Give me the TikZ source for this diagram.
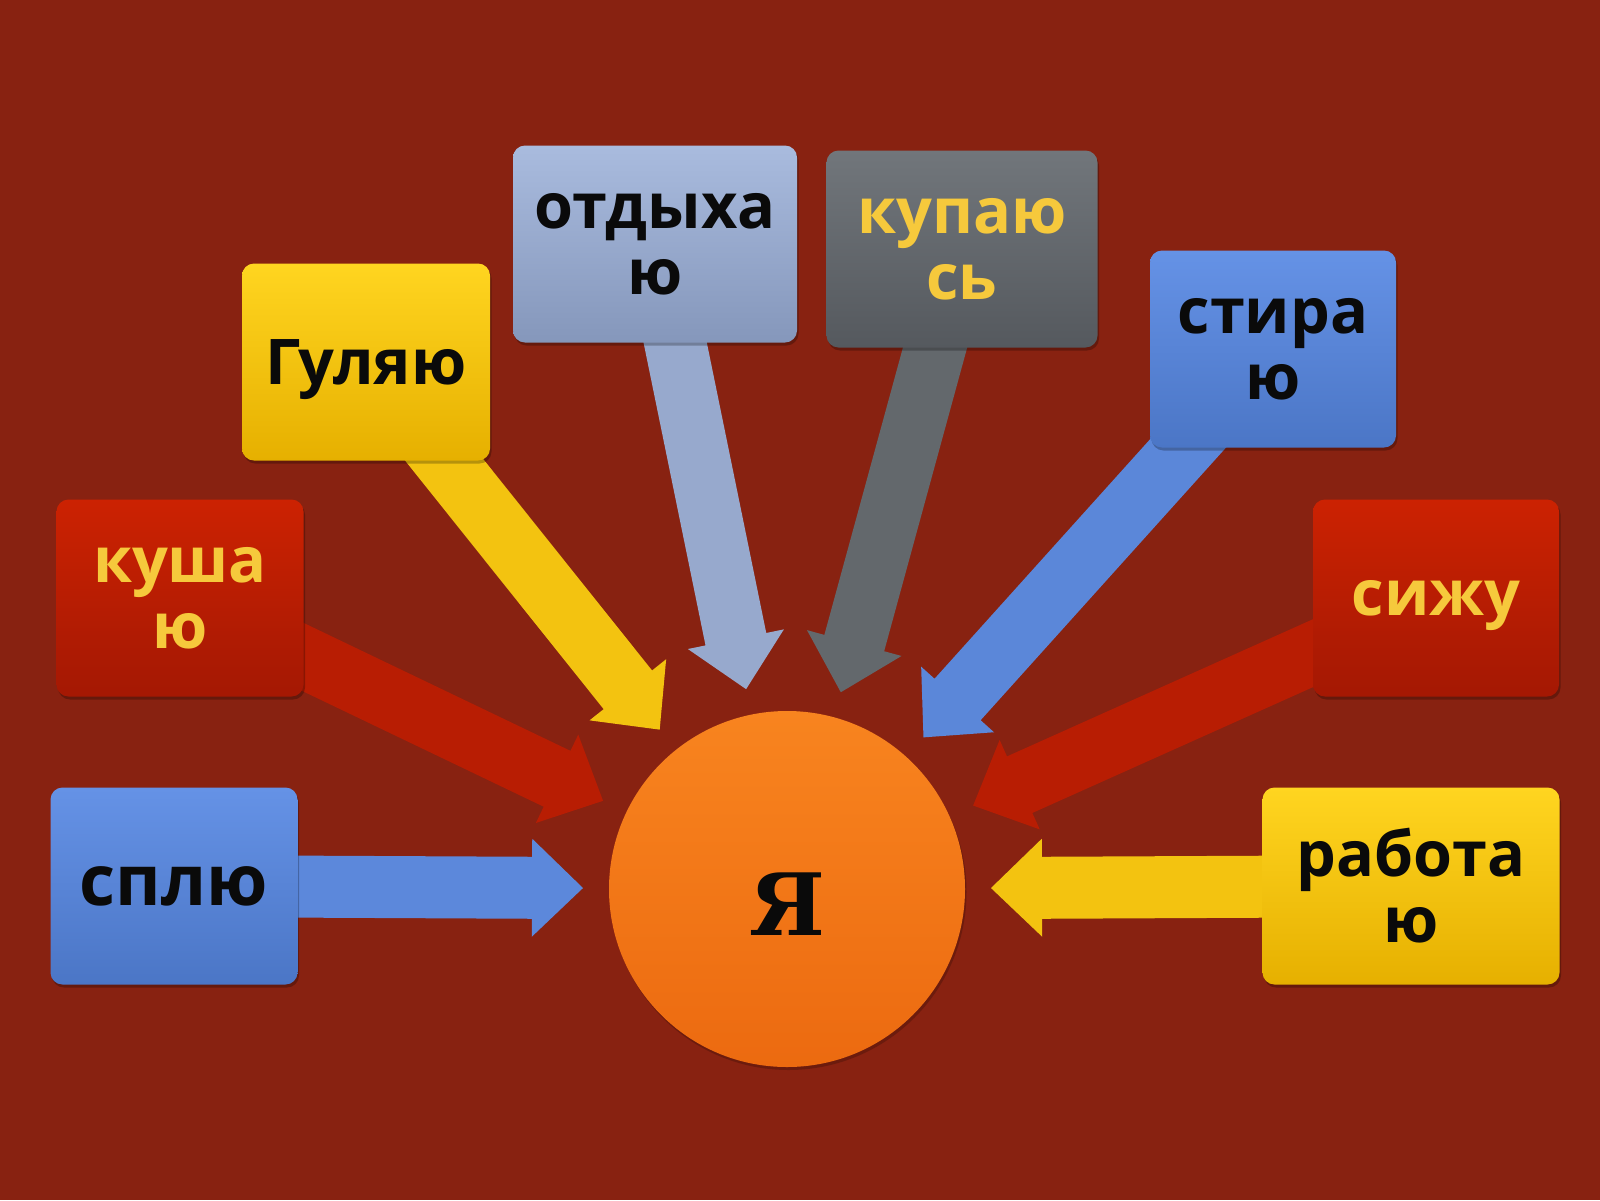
\documentclass[tikz,border=0pt]{standalone}
\usepackage{fontspec}
\newfontfamily\boxfont{Open Sans}
\newfontfamily\yafont{DejaVu Serif}
\usetikzlibrary{calc,shadows}

\pgfdeclarelayer{back}
\pgfdeclarelayer{arrows}
\pgfsetlayers{back,arrows,main}

\definecolor{bgred}{HTML}{882211}
\definecolor{ink}{HTML}{0A0A0A}
\definecolor{gold}{HTML}{F6C93C}
\definecolor{blueT}{HTML}{6592E6}
\definecolor{blueB}{HTML}{4B76C6}
\definecolor{redT}{HTML}{CC2202}
\definecolor{redB}{HTML}{A41803}
\definecolor{yelT}{HTML}{FFD520}
\definecolor{yelB}{HTML}{E6B000}
\definecolor{steelT}{HTML}{A9BBDE}
\definecolor{steelB}{HTML}{8597BB}
\definecolor{greyT}{HTML}{71767B}
\definecolor{greyB}{HTML}{55595E}
\definecolor{orangeT}{HTML}{F8841F}
\definecolor{orangeB}{HTML}{EC6A10}

\tikzset{
  word/.style={rounded corners=12pt, minimum height=197pt, align=center,
    font=\boxfont\bfseries\fontsize{63pt}{66pt}\selectfont,
    drop shadow={shadow xshift=1.5pt, shadow yshift=-3pt, opacity=.25, fill=black}},
  oneline/.style={text depth=0pt},
  bluebox/.style={word, top color=blueT, bottom color=blueB, text=ink},
  redbox/.style={word, top color=redT, bottom color=redB, text=gold},
  yelbox/.style={word, top color=yelT, bottom color=yelB, text=ink},
  steelbox/.style={word, top color=steelT, bottom color=steelB, text=ink},
  greybox/.style={word, top color=greyT, bottom color=greyB, text=gold},
}

% fat arrow from a box to the circle: colour, box, circle
\newcommand\fatarrow[3]{%
  \coordinate (tip) at ($(#3)!204pt!(#2)$);
  \coordinate (neck) at ($(tip)!51pt!(#2)$);
  \fill[#1] ($(#2)!31pt!90:(tip)$) -- ($(neck)!31pt!-90:(#2)$)
    -- ($(neck)!49pt!-90:(#2)$) -- (tip) -- ($(neck)!49pt!90:(#2)$)
    -- ($(neck)!31pt!90:(#2)$) -- ($(#2)!31pt!-90:(tip)$) -- cycle;
}

\begin{document}
\begin{tikzpicture}[x=1pt, y=-1pt]
\begin{pgfonlayer}{back}
\fill[bgred] (0,0) rectangle (1600,1200);
\end{pgfonlayer}

\node[circle, minimum size=356pt, top color=orangeT, bottom color=orangeB,
  drop shadow={shadow xshift=1.5pt, shadow yshift=-3pt, opacity=.2, fill=black},
  font=\yafont\bfseries\fontsize{86pt}{86pt}\selectfont, text=ink,
  text height=92pt, text depth=0pt] (ya) at (787,889) {Я};

\node[bluebox, oneline, minimum width=247pt,
  font=\boxfont\bfseries\fontsize{70pt}{70pt}\selectfont] (splyu) at (174,886) {сплю};
\node[redbox, minimum width=247pt] (kusha) at (180,598) {куша\\ю};
\node[yelbox, oneline, minimum width=248pt] (gulyayu) at (366,362) {Гуляю};
\node[steelbox, minimum width=284pt] (otdykha) at (655,244) {отдыха\\ю};
\node[greybox, minimum width=271pt] (kupayus) at (962,249) {купаю\\сь};
\node[bluebox, minimum width=246pt] (stirayu) at (1273,349) {стира\\ю};
\node[redbox, oneline, minimum width=246pt] (sizhu) at (1436,598) {сижу};
\node[yelbox, minimum width=297pt] (rabotayu) at (1411,886) {работа\\ю};

\begin{pgfonlayer}{arrows}
\fatarrow{blueT!65!blueB}{splyu}{ya}
\fatarrow{redT!50!redB}{kusha}{ya}
\fatarrow{yelT!50!yelB}{gulyayu}{ya}
\fatarrow{steelT!50!steelB}{otdykha}{ya}
\fatarrow{greyT!50!greyB}{kupayus}{ya}
\fatarrow{blueT!60!blueB}{stirayu}{ya}
\fatarrow{redT!50!redB}{sizhu}{ya}
\fatarrow{yelT!50!yelB}{rabotayu}{ya}
\end{pgfonlayer}
\end{tikzpicture}
\end{document}
